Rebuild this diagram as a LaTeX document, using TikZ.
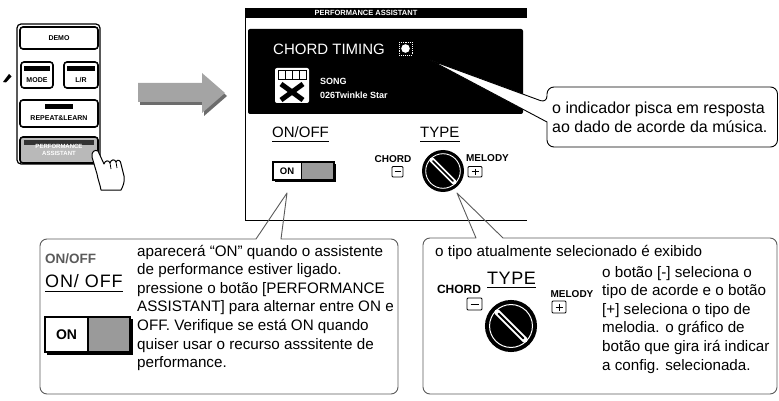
\documentclass[tikz,border=0pt]{standalone}
\usepackage{fontspec}
\setmainfont{Liberation Sans}
\usetikzlibrary{calc}
\definecolor{arrowbody}{HTML}{A4A4A4}
\definecolor{arrowshade}{HTML}{6C6C6C}
\definecolor{framegray}{HTML}{5A5A5A}
\definecolor{slidegray}{HTML}{9A9A9A}
\begin{document}
\begin{tikzpicture}[x=1pt,y=-1pt,
  panelbtn/.style={draw=black, line width=1.6pt, rounded corners=3pt},
  btnlabel/.style={font=\fontsize{7}{7.5}\selectfont\bfseries, inner sep=0pt, align=center},
  lcdtext/.style={text=white, inner sep=0pt, anchor=base west},
  headline/.style={inner sep=0pt, anchor=base west},
  tinybold/.style={font=\fontsize{10}{10}\selectfont\bfseries, inner sep=0pt},
  bodytext/.style={font=\fontsize{15.2}{18.6}\selectfont, align=left, inner sep=0pt, anchor=base west},
  bubble/.style={draw=framegray, line width=0.9pt, line join=round},
  keybox/.style={draw=black, line width=0.9pt, rounded corners=1pt}
]
\useasboundingbox (0,0) rectangle (779,401);

% ---------- front panel buttons ----------
\draw[line width=1.2pt, rounded corners=4pt] (17,24) rectangle (100,164);
\draw[panelbtn] (20,27) rectangle (98,49);
\node[btnlabel] (demo) at (59,38) {DEMO};
\draw[panelbtn] (21,62) rectangle (53,88);
\fill (24,66) rectangle (50,71);
\node[btnlabel] (mode) at (37,80) {MODE};
\draw[panelbtn] (64,62) rectangle (98,88);
\fill (67,66) rectangle (95,71);
\node[btnlabel] (lr) at (81,80) {L/R};
\draw[panelbtn] (20,100) rectangle (98,127);
\fill (45,104) rectangle (73,109);
\node[btnlabel] (repeat) at (59,118) {REPEAT\&LEARN};
\draw[panelbtn, fill=gray!55] (20,137) rectangle (98,163);
\fill[black!80] (24,140.5) rectangle (94,145.5);
\node[btnlabel, text=white, font=\fontsize{6}{7}\selectfont\bfseries] (perf) at (59,150) {PERFORMANCE\\ASSISTANT};
% small pen mark beside the panel
\fill (3,82) -- (9,74) -- (11.5,76.5) -- (6,82.5) -- cycle;

% pressing hand
\draw[line width=1pt, fill=white, line join=round]
  (92,157) .. controls (91,152) and (95,149) .. (98,151)
  -- (104,164) .. controls (105,160) and (109,160) .. (110,163)
  .. controls (111,159) and (115,159) .. (116,162)
  .. controls (117,159) and (121,160) .. (121,164)
  -- (124,176) .. controls (125,182) and (123,186) .. (121,190)
  -- (101,190) .. controls (100,184) and (98,180) .. (97,174) -- cycle;
\draw[line width=0.8pt] (110,163) -- (111,169) (116,162) -- (117,168);

% ---------- big grey arrow ----------
\fill[arrowshade, shift={(2,3)}] (138,83) -- (202,83) -- (202,73) -- (225,93) -- (202,113) -- (202,102) -- (138,102) -- cycle;
\fill[arrowbody] (138,83) -- (202,83) -- (202,73) -- (225,93) -- (202,113) -- (202,102) -- (138,102) -- cycle;

% ---------- display screen ----------
\fill (245,8) rectangle (527,18);
\node[text=white, font=\fontsize{7.5}{8}\selectfont\bfseries, inner sep=0pt] (title) at (366,13.3) {PERFORMANCE ASSISTANT};
\draw[line width=1pt] (245,8) -- (245,220) -- (527,220);
\fill[rounded corners=2pt] (248,29) rectangle (523,114);

\node[lcdtext, font=\fontsize{15}{15}\selectfont] (timing) at (273,55) {CHORD TIMING};
\draw[white, line width=0.9pt, densely dotted] (399,42) rectangle (412,55);
\fill[white] (405.5,48.5) circle (4.3);

% song icon
\fill[white, rounded corners=2pt] (275,68) rectangle (309,103);
\draw[line width=1pt] (278,71) rectangle (306,80);
\draw[line width=1pt] (285,71) -- (285,80) (292,71) -- (292,80) (299,71) -- (299,80);
\draw[line width=5pt] (281,84) -- (303,100);
\draw[line width=5pt] (303,84) -- (281,100);
\node[lcdtext, font=\fontsize{9}{9}\selectfont\bfseries] (song) at (320,85) {SONG};
\node[lcdtext, font=\fontsize{9}{9}\selectfont\bfseries] (songname) at (320,99) {026Twinkle Star};

% ON/OFF section
\node[headline, font=\fontsize{15}{15}\selectfont] (onoff) at (272,138) {ON/OFF};
\draw[line width=0.8pt] ([yshift=-3.5pt]onoff.base west) -- ([yshift=-3.5pt]onoff.base east);
\fill (274.5,163.5) rectangle (335.5,181.5);
\draw[line width=1.4pt, fill=white] (273,162) rectangle (334,180);
\fill[slidegray] (301,162.7) rectangle (333.3,179.3);
\draw[line width=1pt] (301,162) -- (301,180);
\node[font=\fontsize{9.5}{9.5}\selectfont\bfseries, inner sep=0pt] (onsw) at (287,171) {ON};

% TYPE section
\node[headline, font=\fontsize{15}{15}\selectfont] (type) at (420,138) {TYPE};
\draw[line width=0.8pt] ([yshift=-3.5pt]type.base west) -- ([yshift=-3.5pt]type.base east);
\node[tinybold] (chordA) at (393,159) {CHORD};
\draw[keybox] (392,166.5) rectangle (403,177);
\draw[line width=0.9pt] (394.5,171.8) -- (400.5,171.8);
\node[tinybold] (melodyA) at (487.5,158) {MELODY};
\draw[keybox] (468,166.5) rectangle (482,177);
\draw[line width=0.9pt] (471.5,171.8) -- (478.5,171.8) (475,168.5) -- (475,175);
\begin{scope}[shift={(443,171)}]
  \fill (0,0) circle (21);
  \draw[white, line width=0.9pt] (0,0) circle (17.3);
  \draw[white, line width=5pt, line cap=round] (-11,-11) -- (11,11);
  \draw[line width=1.6pt, line cap=round] (-10,-10) -- (10,10);
\end{scope}

% ---------- callout: chord timing indicator ----------
\coordinate (blinktip) at (430,60);
\filldraw[fill=white, draw=black, line width=0.9pt, line join=round]
  (547,103) -- (blinktip) -- (547,122) [rounded corners=7pt] -- (547,147) -- (777.5,147) -- (777.5,87) -- (547,87) -- cycle;
% multi-line texts are anchored at the baseline of their last line
\node[bodytext, font=\fontsize{16}{19}\selectfont] (blink) at (552,133) {o indicador pisca em resposta\\ao dado de acorde da música.};

% ---------- callout: ON/OFF ----------
\coordinate (ontip) at (287,193);
\draw[bubble] (ontip) -- (281,239) [rounded corners=7pt] -- (398,239) -- (398,394) -- (40,394) -- (40,239) [sharp corners] -- (256,239) -- cycle;
\node[headline, font=\fontsize{13.5}{14}\selectfont\bfseries, text=framegray] (onoffsmall) at (45,263) {ON/OFF};
\node[headline, font=\fontsize{18}{18}\selectfont\addfontfeature{LetterSpace=5}] (onoffbig) at (45,287) {ON/ OFF};
\draw[line width=0.8pt] ([yshift=-4pt]onoffbig.base west) -- ([yshift=-4pt]onoffbig.base east);
\fill (47,319) rectangle (132.5,354.5);
\draw[line width=1.8pt, fill=white] (45,317) rectangle (130,352);
\fill[slidegray] (88,318) rectangle (129,351);
\draw[line width=1.4pt] (88,317) -- (88,352);
\node[font=\fontsize{14}{14}\selectfont\bfseries, inner sep=0pt] (onsw2) at (66.5,334.5) {ON};
\node[bodytext] (ontext) at (137,367.6) {aparecerá “ON” quando o assistente\\de performance estiver ligado.\\pressione o botão [PERFORMANCE\\ASSISTANT] para alternar entre ON e\\OFF. Verifique se está ON quando\\quiser usar o recurso asssitente de\\performance.};

% ---------- callout: TYPE ----------
\coordinate (typetip) at (457,193);
\draw[bubble] (typetip) -- (503,238) [rounded corners=7pt] -- (777,238) -- (777,394) -- (423,394) -- (423,238) [sharp corners] -- (476,238) -- cycle;
\node[bodytext] (typehead) at (435,256) {o tipo atualmente selecionado é exibido};
\node[headline, font=\fontsize{18}{18}\selectfont\addfontfeature{LetterSpace=3}] (typebig) at (487,284) {TYPE};
\draw[line width=0.8pt] ([yshift=-3.5pt]typebig.base west) -- ([yshift=-3.5pt]typebig.base east);
\node[tinybold, font=\fontsize{12}{12}\selectfont\bfseries] (chordB) at (459,289) {CHORD};
\draw[keybox] (467,298) rectangle (482,310);
\draw[line width=0.9pt] (470.5,304) -- (478.5,304);
\node[tinybold, font=\fontsize{10}{10}\selectfont\bfseries] (melodyB) at (572,294) {MELODY};
\draw[keybox] (552,301) rectangle (566,313);
\draw[line width=0.9pt] (555.5,307) -- (562.5,307) (559,303.5) -- (559,310.5);
\begin{scope}[shift={(511,326)}, scale=1.24]
  \fill (0,0) circle (21);
  \draw[white, line width=1pt] (0,0) circle (17.3);
  \draw[white, line width=6pt, line cap=round] (-11,-11) -- (11,11);
  \draw[line width=2pt, line cap=round] (-10,-10) -- (10,10);
\end{scope}
\node[bodytext] (typetext) at (602,370) {o botão [-] seleciona o\\tipo de acorde e o botão\\{[+]} seleciona o tipo de\\melodia. o gráfico de\\botão que gira irá indicar\\a config. selecionada.};
\end{tikzpicture}
\end{document}
